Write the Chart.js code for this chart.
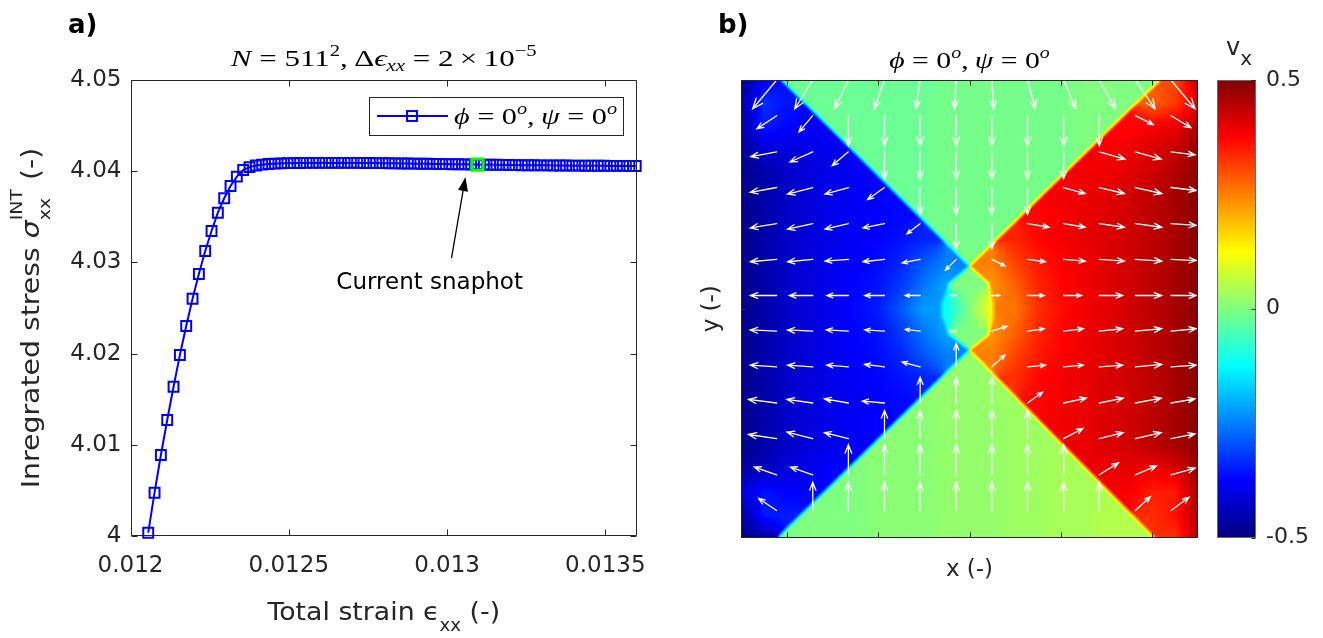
<!DOCTYPE html>
<html lang="en">
<head>
<meta charset="UTF-8">
<title>Integrated stress and velocity field</title>
<script src="https://cdn.jsdelivr.net/npm/chart.js@4.4.1/dist/chart.umd.min.js"></script>
<style>
  html, body { margin: 0; padding: 0; background: #fff; }
  body { width: 1323px; height: 638px; position: relative; overflow: hidden; }
  canvas { position: absolute; top: 0; }
  #stressChart { left: 0; }
  #fieldChart { left: 700px; }
  #colorbarChart { left: 1210px; }
</style>
</head>
<body>
<canvas id="stressChart" width="700" height="638"></canvas>
<canvas id="fieldChart" width="510" height="638"></canvas>
<canvas id="colorbarChart" width="113" height="638"></canvas>
<script>
// ---------- panel a: stress-strain curve ----------
const strain = [
  0.012056, 0.012076, 0.012096, 0.012116, 0.012136, 0.012156, 0.012176, 0.012196, 0.012216, 0.012236,
  0.012256, 0.012276, 0.012296, 0.012316, 0.012336, 0.012356, 0.012376, 0.012396, 0.012416, 0.012436,
  0.012456, 0.012476, 0.012496, 0.012516, 0.012536, 0.012556, 0.012576, 0.012596, 0.012616, 0.012636,
  0.012656, 0.012676, 0.012696, 0.012716, 0.012736, 0.012756, 0.012776, 0.012796, 0.012816, 0.012836,
  0.012856, 0.012876, 0.012896, 0.012916, 0.012936, 0.012956, 0.012976, 0.012996, 0.013016, 0.013036,
  0.013056, 0.013076, 0.013096, 0.013116, 0.013136, 0.013156, 0.013176, 0.013196, 0.013216, 0.013236,
  0.013256, 0.013276, 0.013296, 0.013316, 0.013336, 0.013356, 0.013376, 0.013396, 0.013416, 0.013436,
  0.013456, 0.013476, 0.013496, 0.013516, 0.013536, 0.013556, 0.013576, 0.013596
];
const stress = [
  4.00036, 4.00475, 4.00888, 4.01272, 4.01637, 4.01985, 4.02303, 4.02602, 4.02873, 4.03125,
  4.03344, 4.03545, 4.03703, 4.03838, 4.03940, 4.04013, 4.04045, 4.04062, 4.04072, 4.04079,
  4.04083, 4.04086, 4.04088, 4.04089, 4.04090, 4.04091, 4.04091, 4.04091, 4.04091, 4.04091,
  4.04091, 4.04091, 4.04091, 4.04091, 4.04090, 4.04090, 4.04089, 4.04088, 4.04087, 4.04086,
  4.04085, 4.04084, 4.04083, 4.04082, 4.04081, 4.04080, 4.04079, 4.04078, 4.04077, 4.04076,
  4.04075, 4.04074, 4.04073, 4.04072, 4.04071, 4.04070, 4.04069, 4.04068, 4.04067, 4.04066,
  4.04066, 4.04065, 4.04064, 4.04064, 4.04063, 4.04062, 4.04062, 4.04061, 4.04061, 4.04060,
  4.04060, 4.04059, 4.04059, 4.04058, 4.04058, 4.04058, 4.04057, 4.04057
];
const currentStrain = [0.013096];
const currentStress = [4.04073];
const strainTicks = [0.012, 0.0125, 0.013, 0.0135];
const stressTicks = [4, 4.01, 4.02, 4.03, 4.04, 4.05];
// annotation arrow, in data units
const snapArrowFrom = [0.013014, 4.03048];
const snapArrowTo = [0.013058, 4.03936];
const snapLabelAt = [0.012945, 4.02774];

// ---------- panel b: v_x field (rows top -> bottom, cols left -> right) ----------
const fieldRange = [0, 1];
const vxGrid = [
  [-0.49, -0.38, -0.02, -0.02, -0.02, -0.02, -0.02, -0.02, -0.02, -0.01, -0.01, -0.01, -0.01, -0.01, -0.01, 0.00, 0.00, 0.00, 0.00, 0.30, 0.44],
  [-0.47, -0.33, -0.36, -0.02, -0.02, -0.02, -0.02, -0.02, -0.02, -0.01, -0.01, -0.01, -0.01, -0.01, -0.01, 0.00, 0.00, 0.00, 0.28, 0.32, 0.40],
  [-0.47, -0.35, -0.37, -0.38, -0.02, -0.02, -0.02, -0.02, -0.02, -0.01, -0.01, -0.01, -0.01, -0.01, -0.01, 0.00, 0.00, 0.37, 0.38, 0.39, 0.45],
  [-0.48, -0.41, -0.41, -0.40, -0.39, -0.02, -0.02, -0.02, -0.02, -0.01, -0.01, -0.01, -0.01, -0.01, -0.01, 0.00, 0.38, 0.39, 0.41, 0.43, 0.48],
  [-0.49, -0.46, -0.43, -0.41, -0.395, -0.385, -0.02, -0.02, -0.02, -0.01, -0.01, -0.01, -0.01, -0.01, -0.01, 0.385, 0.39, 0.40, 0.42, 0.45, 0.48],
  [-0.49, -0.46, -0.43, -0.41, -0.395, -0.385, -0.375, -0.02, -0.02, -0.01, -0.01, -0.01, -0.01, -0.01, 0.385, 0.39, 0.40, 0.42, 0.44, 0.46, 0.49],
  [-0.49, -0.46, -0.43, -0.41, -0.395, -0.385, -0.375, -0.37, -0.02, -0.01, -0.01, -0.01, -0.01, 0.37, 0.385, 0.395, 0.41, 0.42, 0.44, 0.46, 0.49],
  [-0.49, -0.46, -0.43, -0.41, -0.395, -0.385, -0.375, -0.36, -0.34, -0.01, -0.01, -0.01, 0.34, 0.37, 0.385, 0.395, 0.41, 0.42, 0.44, 0.46, 0.49],
  [-0.49, -0.46, -0.43, -0.41, -0.39, -0.38, -0.365, -0.34, -0.29, -0.25, 0.00, 0.25, 0.31, 0.35, 0.375, 0.39, 0.405, 0.42, 0.44, 0.46, 0.49],
  [-0.49, -0.46, -0.43, -0.41, -0.39, -0.375, -0.36, -0.32, -0.26, -0.21, 0.00, 0.23, 0.28, 0.34, 0.37, 0.39, 0.405, 0.42, 0.44, 0.46, 0.49],
  [-0.49, -0.46, -0.43, -0.41, -0.39, -0.37, -0.35, -0.29, -0.22, -0.12, 0.00, 0.12, 0.26, 0.33, 0.365, 0.385, 0.40, 0.42, 0.44, 0.46, 0.49],
  [-0.49, -0.46, -0.43, -0.41, -0.39, -0.375, -0.36, -0.32, -0.26, -0.21, 0.00, 0.23, 0.28, 0.34, 0.37, 0.39, 0.405, 0.42, 0.44, 0.46, 0.49],
  [-0.49, -0.46, -0.43, -0.41, -0.39, -0.38, -0.365, -0.34, -0.29, -0.25, 0.02, 0.25, 0.31, 0.35, 0.375, 0.39, 0.405, 0.42, 0.44, 0.46, 0.49],
  [-0.49, -0.46, -0.43, -0.41, -0.395, -0.385, -0.375, -0.36, -0.34, 0.02, 0.02, 0.025, 0.33, 0.37, 0.385, 0.395, 0.41, 0.42, 0.44, 0.46, 0.49],
  [-0.49, -0.46, -0.43, -0.41, -0.395, -0.385, -0.375, -0.37, 0.015, 0.02, 0.02, 0.025, 0.03, 0.37, 0.385, 0.395, 0.41, 0.42, 0.44, 0.46, 0.49],
  [-0.49, -0.46, -0.43, -0.41, -0.395, -0.385, -0.375, 0.01, 0.01, 0.02, 0.02, 0.02, 0.03, 0.03, 0.385, 0.395, 0.41, 0.42, 0.44, 0.46, 0.49],
  [-0.49, -0.46, -0.43, -0.41, -0.395, -0.38, 0.01, 0.01, 0.01, 0.02, 0.02, 0.02, 0.03, 0.03, 0.035, 0.395, 0.41, 0.42, 0.44, 0.46, 0.49],
  [-0.47, -0.44, -0.41, -0.39, -0.375, 0.00, 0.01, 0.01, 0.01, 0.02, 0.02, 0.02, 0.03, 0.03, 0.04, 0.04, 0.39, 0.40, 0.385, 0.41, 0.47],
  [-0.41, -0.36, -0.38, -0.37, 0.00, 0.00, 0.01, 0.01, 0.01, 0.02, 0.02, 0.02, 0.03, 0.03, 0.04, 0.04, 0.045, 0.38, 0.35, 0.35, 0.46],
  [-0.48, -0.35, -0.35, 0.00, 0.00, 0.00, 0.01, 0.01, 0.01, 0.02, 0.02, 0.02, 0.03, 0.03, 0.04, 0.04, 0.05, 0.05, 0.33, 0.36, 0.45],
  [-0.49, -0.46, -0.005, 0.00, 0.00, 0.00, 0.01, 0.01, 0.01, 0.02, 0.02, 0.02, 0.03, 0.03, 0.04, 0.04, 0.05, 0.05, 0.05, 0.33, 0.44]
];
// sharp fronts in the field (x, y data pairs): the four shear bands and the central lens
const fieldFaults = [
  [[0.088, 1.0], [0.5, 0.593]],
  [[0.917, 1.0], [0.5, 0.593]],
  [[0.080, 0.0], [0.5, 0.410]],
  [[0.905, 0.0], [0.5, 0.410]],
  [[0.5, 0.593], [0.457, 0.556], [0.439, 0.512], [0.439, 0.483], [0.457, 0.443], [0.5, 0.410]],
  [[0.5, 0.593], [0.541, 0.556], [0.552, 0.512], [0.552, 0.483], [0.541, 0.443], [0.5, 0.410]]
];
const fieldTicksX = [0.1, 0.3, 0.5, 0.7, 0.9];
const fieldTicksY = [0.5];

// quiver: base positions and velocity components (vy positive up)
const quiverCols = [0.078, 0.157, 0.235, 0.314, 0.392, 0.471, 0.549, 0.627, 0.706, 0.784, 0.863, 0.941];
const quiverRows = [1.0, 0.922, 0.843, 0.765, 0.686, 0.608, 0.529, 0.451, 0.373, 0.294, 0.216, 0.137, 0.059];
const quiverU = [
  [-0.40, -0.30, -0.23, -0.17, -0.07, -0.03, 0.03, 0.13, 0.20, 0.27, 0.33, 0.40],
  [-0.33, -0.23, 0, 0, 0, 0, 0, 0, 0, 0, 0.30, 0.33],
  [-0.43, -0.38, -0.27, 0, 0, 0, 0, 0, 0, 0.43, 0.43, 0.40],
  [-0.44, -0.42, -0.39, -0.28, 0, 0, 0, 0, 0.36, 0.42, 0.44, 0.42],
  [-0.44, -0.42, -0.39, -0.36, -0.22, 0, 0, 0.36, 0.36, 0.42, 0.44, 0.42],
  [-0.44, -0.42, -0.39, -0.36, -0.30, -0.18, 0.22, 0.30, 0.36, 0.42, 0.44, 0.42],
  [-0.44, -0.39, -0.36, -0.33, -0.25, -0.08, 0.13, 0.28, 0.30, 0.39, 0.44, 0.42],
  [-0.44, -0.42, -0.37, -0.33, -0.25, -0.08, 0.25, 0.28, 0.33, 0.39, 0.44, 0.42],
  [-0.44, -0.42, -0.36, -0.33, -0.30, 0, 0.22, 0.30, 0.33, 0.39, 0.44, 0.42],
  [-0.47, -0.43, -0.40, -0.37, 0, 0, 0, 0.25, 0.38, 0.40, 0.43, 0.40],
  [-0.47, -0.43, -0.40, 0, 0, 0, 0, 0, 0.32, 0.40, 0.43, 0.40],
  [-0.37, -0.37, 0, 0, 0, 0, 0, 0, 0, 0.32, 0.35, 0.40],
  [-0.30, 0, 0, 0, 0, 0, 0, 0, 0, 0, 0.25, 0.30]
];
const quiverV = [
  [-0.48, -0.48, -0.48, -0.48, -0.48, -0.48, -0.48, -0.48, -0.48, -0.48, -0.48, -0.48],
  [-0.22, -0.27, -0.50, -0.50, -0.50, -0.50, -0.50, -0.50, -0.50, -0.50, -0.15, -0.20],
  [-0.08, -0.17, -0.23, -0.45, -0.45, -0.45, -0.45, -0.45, -0.45, -0.12, -0.12, -0.05],
  [-0.08, -0.11, -0.11, -0.20, -0.45, -0.45, -0.45, -0.45, -0.10, -0.10, -0.10, -0.05],
  [-0.07, -0.09, -0.09, -0.07, -0.17, -0.42, -0.42, -0.06, -0.06, -0.06, -0.06, -0.03],
  [-0.04, -0.04, -0.03, -0.04, -0.06, -0.18, -0.11, -0.04, -0.03, -0.03, -0.03, -0.02],
  [0, 0, 0, 0, 0, 0, 0, 0, 0, 0, 0, 0],
  [0.02, 0.02, 0.02, 0.02, 0.03, 0, 0.08, 0.04, 0.04, 0.04, 0.04, 0.04],
  [0.03, 0.03, 0.03, 0.04, 0.08, 0.39, 0.20, 0.03, 0.03, 0.03, 0.04, 0.03],
  [0.06, 0.06, 0.07, 0.03, 0.43, 0.42, 0.43, 0.18, 0.08, 0.08, 0.08, 0.07],
  [0.07, 0.11, 0.10, 0.47, 0.47, 0.47, 0.47, 0.47, 0.17, 0.10, 0.10, 0.08],
  [0.13, 0.13, 0.50, 0.50, 0.50, 0.50, 0.50, 0.50, 0.50, 0.20, 0.15, 0.11],
  [0.20, 0.47, 0.47, 0.47, 0.47, 0.47, 0.47, 0.47, 0.47, 0.47, 0.23, 0.22]
];
const arrowScale = 0.131; // data units per unit of velocity

// ---------- colorbar ----------
const colorLimits = [-0.5, 0.5];
const colorbarTicks = [-0.5, 0, 0.5];

// ---------- helpers ----------
const INK = '#262626';
const SANS = '"DejaVu Sans", sans-serif';
const SERIF = '"Liberation Serif", "DejaVu Serif", serif';
Chart.defaults.font.family = SANS;

const clamp = (v, lo, hi) => Math.min(hi, Math.max(lo, v));

function jet(t) {
  t = clamp(t, 0, 1);
  const r = clamp(1.5 - Math.abs(4 * t - 3), 0, 1);
  const g = clamp(1.5 - Math.abs(4 * t - 2), 0, 1);
  const b = clamp(1.5 - Math.abs(4 * t - 1), 0, 1);
  return [Math.round(r * 255), Math.round(g * 255), Math.round(b * 255)];
}

// field interpolation that does not smear values across the fronts
const faultSegs = [];
fieldFaults.forEach(line => {
  for (let i = 0; i < line.length - 1; i++) faultSegs.push([line[i][0], line[i][1], line[i + 1][0], line[i + 1][1]]);
});
const orient = (ax, ay, bx, by, px, py) => (bx - ax) * (py - ay) - (by - ay) * (px - ax);

function crossesFault(px, py, qx, qy) {
  for (const s of faultSegs) {
    const d1 = orient(s[0], s[1], s[2], s[3], px, py), d2 = orient(s[0], s[1], s[2], s[3], qx, qy);
    if ((d1 > 0) === (d2 > 0)) continue;
    const d3 = orient(px, py, qx, qy, s[0], s[1]), d4 = orient(px, py, qx, qy, s[2], s[3]);
    if ((d3 > 0) !== (d4 > 0)) return true;
  }
  return false;
}

function nearestFault(px, py) {
  let best = { d: Infinity };
  for (const s of faultSegs) {
    const vx = s[2] - s[0], vy = s[3] - s[1];
    const t = clamp(((px - s[0]) * vx + (py - s[1]) * vy) / (vx * vx + vy * vy), 0, 1);
    const cx = s[0] + t * vx, cy = s[1] + t * vy;
    const d = Math.hypot(px - cx, py - cy);
    if (d < best.d) {
      const len = Math.hypot(vx, vy);
      let nx = -vy / len, ny = vx / len;
      // make n point to the side of p, then step across to the other side
      if (orient(s[0], s[1], s[2], s[3], px, py) < 0) { nx = -nx; ny = -ny; }
      best = { d, qx: cx - nx * 0.004, qy: cy - ny * 0.004 };
    }
  }
  return best;
}

function nodeX(c) { return fieldRange[0] + c / (vxGrid[0].length - 1) * (fieldRange[1] - fieldRange[0]); }
function nodeY(r) { return fieldRange[1] - r / (vxGrid.length - 1) * (fieldRange[1] - fieldRange[0]); }

function sampleSide(xv, yv) {
  const nr = vxGrid.length, nc = vxGrid[0].length;
  const span = fieldRange[1] - fieldRange[0];
  const fx = (xv - fieldRange[0]) / span * (nc - 1);
  const fy = (fieldRange[1] - yv) / span * (nr - 1);
  const c0 = clamp(Math.floor(fx), 0, nc - 2), r0 = clamp(Math.floor(fy), 0, nr - 2);
  const tx = clamp(fx - c0, 0, 1), ty = clamp(fy - r0, 0, 1);
  const nodes = [[r0, c0, (1 - tx) * (1 - ty)], [r0, c0 + 1, tx * (1 - ty)], [r0 + 1, c0, (1 - tx) * ty], [r0 + 1, c0 + 1, tx * ty]];
  let sw = 0, sv = 0, all = 0;
  for (const [r, c, w] of nodes) {
    all += w * vxGrid[r][c];
    if (!crossesFault(xv, yv, nodeX(c), nodeY(r))) { sw += w; sv += w * vxGrid[r][c]; }
  }
  if (sw > 1e-6) return sv / sw;
  let ww = 0, wv = 0;
  for (let r = Math.max(0, r0 - 1); r <= Math.min(nr - 1, r0 + 2); r++) {
    for (let c = Math.max(0, c0 - 1); c <= Math.min(nc - 1, c0 + 2); c++) {
      if (crossesFault(xv, yv, nodeX(c), nodeY(r))) continue;
      const w = 1 / (Math.pow(nodeX(c) - xv, 2) + Math.pow(nodeY(r) - yv, 2) + 1e-6);
      ww += w; wv += w * vxGrid[r][c];
    }
  }
  return ww > 0 ? wv / ww : all;
}

const frontBlend = 0.0055; // half-width of the soft edge along a front, data units
function sampleField(xv, yv) {
  const a = sampleSide(xv, yv);
  const f = nearestFault(xv, yv);
  if (f.d >= frontBlend) return a;
  const b = sampleSide(f.qx, f.qy);
  return a + (b - a) * 0.5 * (1 - f.d / frontBlend);
}

// rich text: parts are {t, font, dy} | {gap} | {stack:[sup, sub], font, dy:[dySup, dySub]}
function partWidth(ctx, p) {
  if (p.gap) return p.gap;
  ctx.font = p.font;
  if (p.stack) return Math.max(ctx.measureText(p.stack[0]).width, ctx.measureText(p.stack[1]).width);
  return ctx.measureText(p.t).width;
}
function drawRich(ctx, parts, x, y, align, sx = 1) {
  ctx.save();
  ctx.translate(x, y);
  ctx.scale(sx, 1);
  ctx.textAlign = 'left';
  ctx.textBaseline = 'alphabetic';
  const total = parts.reduce((s, p) => s + partWidth(ctx, p), 0);
  let cx = align === 'center' ? -total / 2 : align === 'right' ? -total : 0;
  for (const p of parts) {
    const w = partWidth(ctx, p);
    if (p.stack) {
      ctx.font = p.font;
      ctx.fillText(p.stack[0], cx, p.dy[0]);
      ctx.fillText(p.stack[1], cx, p.dy[1]);
    } else if (!p.gap) {
      ctx.font = p.font;
      ctx.fillText(p.t, cx, p.dy || 0);
    }
    cx += w;
  }
  ctx.restore();
}

function drawFrame(ctx, a, xs, ys, len, color) {
  ctx.save();
  ctx.strokeStyle = color || INK;
  ctx.lineWidth = 1;
  const L = Math.round(a.left) + 0.5, R = Math.round(a.right) - 0.5;
  const T = Math.round(a.top) + 0.5, B = Math.round(a.bottom) - 0.5;
  ctx.beginPath();
  ctx.rect(L, T, R - L, B - T);
  xs.forEach(px => {
    const p = Math.round(px) + 0.5;
    ctx.moveTo(p, B); ctx.lineTo(p, B - len);
    ctx.moveTo(p, T); ctx.lineTo(p, T + len);
  });
  ys.forEach(py => {
    const p = Math.round(py) + 0.5;
    ctx.moveTo(L, p); ctx.lineTo(L + len, p);
    ctx.moveTo(R, p); ctx.lineTo(R - len, p);
  });
  ctx.stroke();
  ctx.restore();
}

const it = s => `italic ${s}px ${SERIF}`;
const rm = s => `${s}px ${SERIF}`;
const sans = s => `${s}px ${SANS}`;

const anglesLabel = [
  { t: 'ϕ', font: it(24) }, { gap: 6 }, { t: '=', font: rm(24) }, { gap: 6 }, { t: '0', font: rm(24) },
  { t: 'o', font: it(16), dy: -10 }, { t: ',', font: rm(24) }, { gap: 5 }, { t: 'ψ', font: it(24) },
  { gap: 6 }, { t: '=', font: rm(24) }, { gap: 6 }, { t: '0', font: rm(24) }, { t: 'o', font: it(16), dy: -10 }
];

// ---------- panel a ----------
const stressDecor = {
  id: 'stressDecor',
  afterDraw(chart) {
    const { ctx, chartArea: a, scales: { x, y } } = chart;
    drawFrame(ctx, a, strainTicks.map(v => x.getPixelForValue(v)), stressTicks.map(v => y.getPixelForValue(v)), 6);

    // legend
    const ds = chart.data.datasets[1];
    const bw = 254, bh = 38, bx = Math.round(a.right) - 14 - bw, by = Math.round(a.top) + 17;
    ctx.save();
    ctx.fillStyle = '#fff';
    ctx.fillRect(bx, by, bw, bh);
    ctx.strokeStyle = INK; ctx.lineWidth = 1;
    ctx.strokeRect(bx + 0.5, by + 0.5, bw, bh);
    const ly = by + bh / 2;
    ctx.strokeStyle = ds.borderColor; ctx.lineWidth = ds.borderWidth;
    ctx.beginPath(); ctx.moveTo(bx + 8, ly); ctx.lineTo(bx + 79, ly); ctx.stroke();
    const side = ds.pointRadius * Math.SQRT2;
    ctx.lineWidth = ds.pointBorderWidth;
    ctx.strokeRect(bx + 43 - side / 2, ly - side / 2, side, side);
    ctx.fillStyle = '#000';
    drawRich(ctx, anglesLabel, bx + 85, by + 27, 'left', 1.26);
    ctx.restore();

    // annotation arrow + label
    ctx.save();
    const x0 = x.getPixelForValue(snapArrowFrom[0]), y0 = y.getPixelForValue(snapArrowFrom[1]);
    const x1 = x.getPixelForValue(snapArrowTo[0]), y1 = y.getPixelForValue(snapArrowTo[1]);
    const ang = Math.atan2(y1 - y0, x1 - x0), hl = 14, hw = 5;
    const bxh = x1 - hl * Math.cos(ang), byh = y1 - hl * Math.sin(ang);
    ctx.strokeStyle = '#000'; ctx.fillStyle = '#000'; ctx.lineWidth = 1.3;
    ctx.beginPath(); ctx.moveTo(x0, y0); ctx.lineTo(bxh, byh); ctx.stroke();
    ctx.beginPath();
    ctx.moveTo(x1, y1);
    ctx.lineTo(bxh + hw * Math.sin(ang), byh - hw * Math.cos(ang));
    ctx.lineTo(bxh - hw * Math.sin(ang), byh + hw * Math.cos(ang));
    ctx.closePath(); ctx.fill();
    ctx.font = sans(23);
    ctx.textAlign = 'center'; ctx.textBaseline = 'middle';
    ctx.fillText('Current snaphot', x.getPixelForValue(snapLabelAt[0]), y.getPixelForValue(snapLabelAt[1]));
    ctx.restore();

    // title, axis titles, panel tag
    ctx.save();
    ctx.fillStyle = '#000';
    drawRich(ctx, [
      { t: 'N', font: it(24) }, { gap: 6 }, { t: '=', font: rm(24) }, { gap: 6 }, { t: '511', font: rm(24) },
      { t: '2', font: rm(16), dy: -10 }, { t: ',', font: rm(24) }, { gap: 5 }, { t: 'Δ', font: rm(24) },
      { t: 'ϵ', font: it(24) }, { t: 'xx', font: it(16), dy: 5 }, { gap: 6 }, { t: '=', font: rm(24) }, { gap: 6 },
      { t: '2', font: rm(24) }, { gap: 5 }, { t: '×', font: rm(24) }, { gap: 5 }, { t: '10', font: rm(24) },
      { t: '−5', font: rm(16), dy: -10 }
    ], (a.left + a.right) / 2, a.top - 14, 'center', 1.29);

    ctx.fillStyle = INK;
    drawRich(ctx, [
      { t: 'Total strain ', font: sans(25) }, { t: 'ϵ', font: sans(25) },
      { t: 'xx', font: sans(17), dy: 11 }, { t: ' (-)', font: sans(25) }
    ], (a.left + a.right) / 2, a.bottom + 84, 'center', 1.07);

    ctx.save();
    ctx.translate(a.left - 92, (a.top + a.bottom) / 2 + 10);
    ctx.rotate(-Math.PI / 2);
    drawRich(ctx, [
      { t: 'Inregrated stress ', font: sans(24) }, { t: 'σ', font: `italic 24px ${SANS}` },
      { stack: ['INT', 'xx'], font: sans(16), dy: [-17, 11] }, { t: ' (-)', font: sans(24) }
    ], 0, 0, 'center', 1.18);
    ctx.restore();

    ctx.fillStyle = '#000';
    ctx.font = `bold 26px ${SANS}`;
    ctx.textAlign = 'left'; ctx.textBaseline = 'alphabetic';
    ctx.fillText('a)', 68, 33);
    ctx.restore();
  }
};

new Chart(document.getElementById('stressChart'), {
  type: 'line',
  data: {
    datasets: [
      {
        label: 'Current snapshot',
        data: currentStrain.map((v, i) => ({ x: v, y: currentStress[i] })),
        showLine: false,
        pointStyle: 'rect',
        pointRadius: 8,
        pointBorderWidth: 3,
        pointBorderColor: '#00ff00',
        pointBackgroundColor: 'rgba(0,0,0,0)',
        clip: false
      },
      {
        label: 'phi = 0, psi = 0',
        data: strain.map((v, i) => ({ x: v, y: stress[i] })),
        borderColor: '#0000ff',
        borderWidth: 2,
        tension: 0,
        pointStyle: 'rect',
        pointRadius: 7,
        pointBorderWidth: 2,
        pointBorderColor: '#0000ff',
        pointBackgroundColor: 'rgba(0,0,0,0)',
        clip: false
      }
    ]
  },
  options: {
    responsive: false,
    animation: false,
    events: [],
    layout: { padding: { left: 0, right: 63, top: 80, bottom: 0 } },
    plugins: { legend: { display: false }, tooltip: { enabled: false } },
    scales: {
      x: {
        type: 'linear', min: 0.012, max: 0.0136,
        grid: { display: false, drawTicks: false }, border: { display: false },
        ticks: { color: INK, font: { size: 23 }, padding: 16, autoSkip: false, maxRotation: 0, callback: v => String(v) },
        afterBuildTicks: s => { s.ticks = strainTicks.map(v => ({ value: v })); },
        afterFit: s => { s.height = 102; }
      },
      y: {
        type: 'linear', min: 4, max: 4.05,
        grid: { display: false, drawTicks: false }, border: { display: false },
        ticks: { color: INK, font: { size: 23 }, padding: 9, autoSkip: false, callback: v => String(v) },
        afterBuildTicks: s => { s.ticks = stressTicks.map(v => ({ value: v })); },
        afterFit: s => { s.width = 130.5; }
      }
    }
  },
  plugins: [stressDecor]
});

// ---------- panel b ----------
const fieldImage = {
  id: 'fieldImage',
  beforeDatasetsDraw(chart) {
    const { ctx, chartArea: a, scales: { x, y } } = chart;
    const x0 = Math.round(a.left), y0 = Math.round(a.top);
    const w = Math.round(a.right) - x0, h = Math.round(a.bottom) - y0;
    const off = document.createElement('canvas');
    off.width = w; off.height = h;
    const octx = off.getContext('2d');
    const img = octx.createImageData(w, h);
    const span = colorLimits[1] - colorLimits[0];
    for (let j = 0; j < h; j++) {
      const yv = y.getValueForPixel(y0 + j + 0.5);
      for (let i = 0; i < w; i++) {
        const xv = x.getValueForPixel(x0 + i + 0.5);
        const [r, g, b] = jet((sampleField(xv, yv) - colorLimits[0]) / span);
        const k = 4 * (j * w + i);
        img.data[k] = r; img.data[k + 1] = g; img.data[k + 2] = b; img.data[k + 3] = 255;
      }
    }
    octx.putImageData(img, 0, 0);
    ctx.drawImage(off, x0, y0);
  }
};

const quiver = {
  id: 'quiver',
  afterDatasetsDraw(chart) {
    const { ctx, chartArea: a, scales: { x, y } } = chart;
    ctx.save();
    ctx.beginPath();
    ctx.rect(a.left, a.top, a.right - a.left, a.bottom - a.top);
    ctx.clip();
    ctx.strokeStyle = '#ffffff';
    ctx.lineWidth = 1.3;
    ctx.lineCap = 'round';
    chart.data.datasets[0].data.forEach(p => {
      const x0 = x.getPixelForValue(p.x), y0 = y.getPixelForValue(p.y);
      const x1 = x.getPixelForValue(p.x + p.u * arrowScale), y1 = y.getPixelForValue(p.y + p.v * arrowScale);
      const len = Math.hypot(x1 - x0, y1 - y0);
      if (len < 0.5) return;
      const ang = Math.atan2(y1 - y0, x1 - x0), hl = 0.3 * len, ha = 0.38;
      ctx.beginPath();
      ctx.moveTo(x0, y0); ctx.lineTo(x1, y1);
      ctx.moveTo(x1 - hl * Math.cos(ang - ha), y1 - hl * Math.sin(ang - ha));
      ctx.lineTo(x1, y1);
      ctx.lineTo(x1 - hl * Math.cos(ang + ha), y1 - hl * Math.sin(ang + ha));
      ctx.stroke();
    });
    ctx.restore();
  }
};

const fieldDecor = {
  id: 'fieldDecor',
  afterDraw(chart) {
    const { ctx, chartArea: a, scales: { x, y } } = chart;
    drawFrame(ctx, a, fieldTicksX.map(v => x.getPixelForValue(v)), fieldTicksY.map(v => y.getPixelForValue(v)), 5);
    ctx.save();
    ctx.fillStyle = '#000';
    drawRich(ctx, anglesLabel, (a.left + a.right) / 2, a.top - 12, 'center', 1.24);
    ctx.fillStyle = INK;
    ctx.font = sans(23);
    ctx.textAlign = 'center'; ctx.textBaseline = 'alphabetic';
    ctx.fillText('x (-)', (a.left + a.right) / 2, a.bottom + 38);
    ctx.save();
    ctx.translate(a.left - 29, (a.top + a.bottom) / 2);
    ctx.rotate(-Math.PI / 2);
    ctx.textBaseline = 'middle';
    ctx.fillText('y (-)', 0, 0);
    ctx.restore();
    ctx.fillStyle = '#000';
    ctx.font = `bold 26px ${SANS}`;
    ctx.textAlign = 'left';
    ctx.fillText('b)', 18, 33);
    ctx.restore();
  }
};

const quiverPoints = [];
quiverRows.forEach((yv, r) => quiverCols.forEach((xv, c) => {
  quiverPoints.push({ x: xv, y: yv, u: quiverU[r][c], v: quiverV[r][c] });
}));

new Chart(document.getElementById('fieldChart'), {
  type: 'scatter',
  data: { datasets: [{ label: 'velocity', data: quiverPoints, pointRadius: 0 }] },
  options: {
    responsive: false,
    animation: false,
    events: [],
    layout: { padding: { left: 0, right: 12, top: 80, bottom: 0 } },
    plugins: { legend: { display: false }, tooltip: { enabled: false } },
    scales: {
      x: {
        type: 'linear', min: fieldRange[0], max: fieldRange[1],
        grid: { display: false, drawTicks: false }, border: { display: false }, ticks: { display: false },
        afterBuildTicks: s => { s.ticks = fieldTicksX.map(v => ({ value: v })); },
        afterFit: s => { s.height = 100.5; }
      },
      y: {
        type: 'linear', min: fieldRange[0], max: fieldRange[1],
        grid: { display: false, drawTicks: false }, border: { display: false }, ticks: { display: false },
        afterBuildTicks: s => { s.ticks = fieldTicksY.map(v => ({ value: v })); },
        afterFit: s => { s.width = 41; }
      }
    }
  },
  plugins: [fieldImage, quiver, fieldDecor]
});

// ---------- colorbar ----------
const colorbarDecor = {
  id: 'colorbarDecor',
  beforeDatasetsDraw(chart) {
    const { ctx, chartArea: a, scales: { y } } = chart;
    const span = colorLimits[1] - colorLimits[0];
    for (let py = Math.round(a.top); py < Math.round(a.bottom); py++) {
      const [r, g, b] = jet((y.getValueForPixel(py + 0.5) - colorLimits[0]) / span);
      ctx.fillStyle = `rgb(${r},${g},${b})`;
      ctx.fillRect(a.left, py, a.right - a.left, 1);
    }
  },
  afterDraw(chart) {
    const { ctx, chartArea: a, scales: { y } } = chart;
    ctx.save();
    ctx.strokeStyle = '#6a6a6a';
    ctx.lineWidth = 1;
    const L = Math.round(a.left) + 0.5, R = Math.round(a.right) - 0.5;
    const T = Math.round(a.top) + 0.5, B = Math.round(a.bottom) - 0.5;
    ctx.strokeRect(L, T, R - L, B - T);
    ctx.strokeStyle = INK;
    ctx.beginPath();
    colorbarTicks.forEach(v => {
      const p = Math.round(y.getPixelForValue(v)) + 0.5;
      ctx.moveTo(R, p); ctx.lineTo(R - 4, p);
    });
    ctx.stroke();
    ctx.fillStyle = INK;
    drawRich(ctx, [{ t: 'v', font: sans(24) }, { t: 'x', font: sans(20), dy: 10 }], 16, 55, 'left');
    ctx.restore();
  }
};

new Chart(document.getElementById('colorbarChart'), {
  type: 'scatter',
  data: { datasets: [] },
  options: {
    responsive: false,
    animation: false,
    events: [],
    layout: { padding: { left: 7, right: 0, top: 80, bottom: 100.5 } },
    plugins: { legend: { display: false }, tooltip: { enabled: false } },
    scales: {
      x: { type: 'linear', min: 0, max: 1, display: false },
      y: {
        type: 'linear', position: 'right', min: colorLimits[0], max: colorLimits[1],
        grid: { display: false, drawTicks: false }, border: { display: false },
        ticks: { color: INK, font: { size: 22 }, padding: 10, callback: v => String(v) },
        afterBuildTicks: s => { s.ticks = colorbarTicks.map(v => ({ value: v })); },
        afterFit: s => { s.width = 67; }
      }
    }
  },
  plugins: [colorbarDecor]
});
</script>
</body>
</html>
